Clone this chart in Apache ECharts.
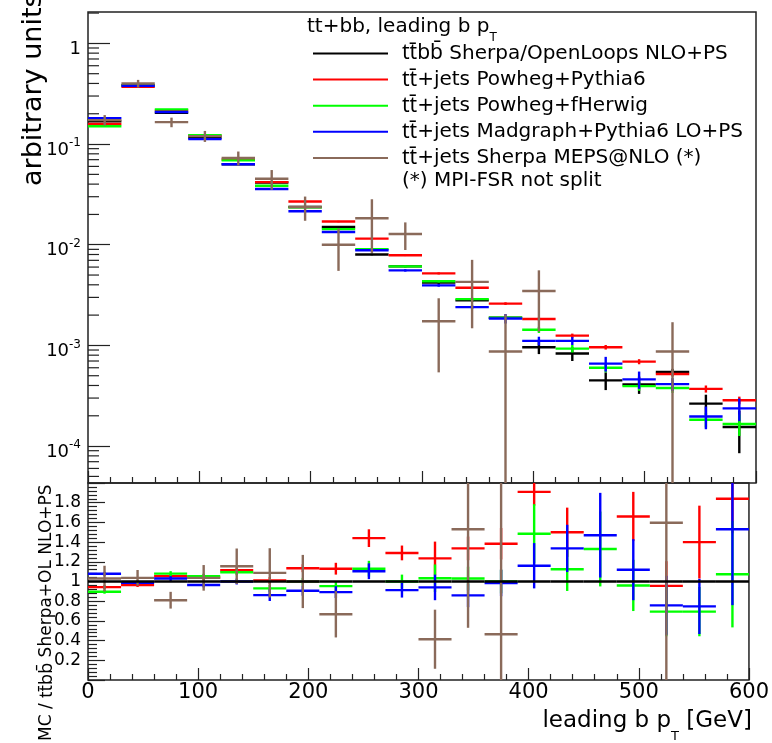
<!DOCTYPE html>
<html>
<head>
<meta charset="utf-8">
<script src="https://cdn.jsdelivr.net/npm/echarts@6/dist/echarts.min.js"></script>
<style>
  html, body { margin: 0; padding: 0; background: #ffffff; }
  #chart { width: 772px; height: 743px; }
</style>
</head>
<body>
<div id="chart"></div>
<script>
// Leading b-jet pT bins [GeV]
const ptEdges = [0, 30, 60, 90, 120, 150, 180, 210, 240, 270, 300, 330, 360, 390, 420, 450, 480, 510, 540, 570, 600];

// Normalised distributions (arbitrary units) with statistical errors
const sherpaOL    = [0.168, 0.385, 0.205, 0.116, 0.063, 0.0415, 0.0237, 0.0150, 0.0080, 0.0061, 0.0042, 0.0028, 0.00188, 0.00096, 0.00083, 0.00045, 0.00041, 0.000545, 0.000264, 0.000155];
const sherpaOLErr = [0.002, 0.004, 0.0025, 0.0015, 0.0009, 0.0006, 0.0004, 0.0003, 0.00015, 0.00013, 0.0001, 0.00009, 0.00008, 0.00014, 0.00013, 0.00009, 0.00008, 0.00004, 0.00006, 0.00007];

const powhegPythia    = [0.158, 0.3715, 0.216, 0.121, 0.0702, 0.0419, 0.0269, 0.0170, 0.0115, 0.00787, 0.00519, 0.00374, 0.0026, 0.00183, 0.00125, 0.00096, 0.00069, 0.000521, 0.00037, 0.000285];
const powhegPythiaErr = [0.0015, 0.003, 0.002, 0.0012, 0.0008, 0.0005, 0.0004, 0.0003, 0.0002, 0.00015, 0.00012, 0.0001, 0.00008, 0.00006, 0.00006, 0.00005, 0.00004, 0.00003, 0.00003, 0.000025];

const powhegHerwig    = [0.1505, 0.381, 0.221, 0.1225, 0.0689, 0.0386, 0.0236, 0.0143, 0.00904, 0.0061, 0.00434, 0.00288, 0.00188, 0.00143, 0.00093, 0.0006, 0.000394, 0.000378, 0.000183, 0.000166];
const powhegHerwigErr = [0.0015, 0.003, 0.002, 0.0012, 0.0007, 0.0005, 0.0004, 0.0003, 0.0002, 0.00015, 0.00012, 0.0001, 0.00008, 0.0001, 0.00008, 0.00006, 0.00004, 0.00004, 0.00003, 0.00004];

const madgraph    = [0.181, 0.38, 0.208, 0.112, 0.063, 0.0358, 0.0215, 0.01338, 0.00883, 0.00556, 0.00395, 0.0024, 0.00185, 0.00111, 0.00111, 0.00066, 0.00046, 0.000413, 0.000197, 0.000237];
const madgraphErr = [0.002, 0.004, 0.002, 0.0012, 0.0008, 0.0005, 0.0004, 0.0003, 0.0002, 0.00015, 0.00012, 0.0001, 0.0002, 0.00011, 0.0001, 0.00011, 0.00009, 0.00006, 0.00005, 0.00006];

const sherpaMEPS    = [0.173, 0.399, 0.165, 0.12, 0.0728, 0.0452, 0.0237, 0.0100, 0.0183, 0.01277, 0.00174, 0.00428, 0.00087, 0.00347, null, null, null, 0.00087, null, null];
const sherpaMEPSErr = [0.021, 0.035, 0.018, 0.015, 0.0115, 0.01, 0.0064, 0.0045, 0.01, 0.0039, 0.0012, 0.0028, 0.00117, 0.0021, null, null, null, 0.00083, null, null];

// Ratios to the ttbb Sherpa+OpenLoops prediction
const ratioSherpaOL = [1, 1, 1, 1, 1, 1, 1, 1, 1, 1, 1, 1, 1, 1, 1, 1, 1, 1, 1, 1];
const ratioPowhegPythia    = [0.943, 0.965, 1.054, 1.04, 1.114, 1.01, 1.135, 1.13, 1.44, 1.29, 1.235, 1.336, 1.384, 1.91, 1.50, 2.13, 1.66, 0.956, 1.40, 1.84];
const ratioPowhegPythiaErr = [0.02, 0.02, 0.025, 0.03, 0.03, 0.035, 0.04, 0.06, 0.09, 0.075, 0.17, 0.12, 0.16, 0.14, 0.25, 0.35, 0.25, 0.25, 0.37, 0.35];
const ratioPowhegHerwig    = [0.896, 0.99, 1.08, 1.054, 1.094, 0.93, 0.997, 0.953, 1.13, 1.0, 1.033, 1.03, 1.0, 1.485, 1.124, 1.33, 0.96, 0.694, 0.694, 1.074];
const ratioPowhegHerwigErr = [0.02, 0.02, 0.025, 0.025, 0.03, 0.035, 0.04, 0.05, 0.08, 0.07, 0.14, 0.12, 0.12, 0.3, 0.22, 0.38, 0.26, 0.25, 0.25, 0.54];
const ratioMadgraph    = [1.078, 0.987, 1.03, 0.965, 1.0, 0.862, 0.906, 0.892, 1.104, 0.912, 0.94, 0.859, 0.985, 1.16, 1.336, 1.47, 1.12, 0.758, 0.747, 1.53];
const ratioMadgraphErr = [0.02, 0.02, 0.025, 0.025, 0.03, 0.06, 0.05, 0.06, 0.08, 0.075, 0.13, 0.12, 0.135, 0.23, 0.24, 0.43, 0.31, 0.3, 0.28, 0.77];
const ratioSherpaMEPS    = [1.03, 1.037, 0.81, 1.037, 1.155, 1.088, 1.0, 0.667, 2.29, 2.09, 0.414, 1.53, 0.465, 3.6, null, null, null, 1.596, null, null];
const ratioSherpaMEPSErr = [0.13, 0.08, 0.085, 0.13, 0.18, 0.25, 0.27, 0.235, 0.6, 0.64, 0.30, 1.0, 1.6, 2.2, null, null, null, 1.7, null, null];

// Axis ranges
const mainRange  = [4.3e-5, 2.05];
const ratioRange = [0, 2];

const FONT = 'DejaVu Sans';
// Noto Sans places the combining overbar of t-bar / b-bar over its base letter
const BAR_FONT = 'Noto Sans';
const names = [
  't\u0074\u0304b\u0062\u0304 Sherpa/OpenLoops NLO+PS',
  't\u0074\u0304+jets Powheg+Pythia6',
  't\u0074\u0304+jets Powheg+fHerwig',
  't\u0074\u0304+jets Madgraph+Pythia6 LO+PS',
  't\u0074\u0304+jets Sherpa MEPS@NLO (*)'
];
const colors = ['#000000', '#ff0000', '#00ff00', '#0000ff', '#8a6a5a'];

// Split a process label into its quark part (set in BAR_FONT) and the rest
function quarkRich(name) {
  const m = name.match(/^([tb\u0304]+)(.*)$/);
  return m ? '{q|' + m[1] + '}{r|' + m[2] + '}' : '{r|' + name + '}';
}

function binned(values, errors) {
  return values.map((v, i) => [ptEdges[i], ptEdges[i + 1], v == null ? NaN : v, errors && errors[i] != null ? errors[i] : 0]);
}

// Horizontal bin-width segment plus vertical error bar, ROOT "E" style
function histItem(range) {
  return function (params, api) {
    const v = api.value(2);
    if (!(v > 0) || v < range[0] || v > range[1]) return null;
    const lo = api.value(0), hi = api.value(1), e = api.value(3) || 0;
    const mid = (lo + hi) / 2;
    const a = api.coord([lo, v]);
    const b = api.coord([hi, v]);
    const style = { stroke: api.visual('color'), lineWidth: 2.4, lineCap: 'butt' };
    const kids = [{ type: 'line', shape: { x1: a[0], y1: a[1], x2: b[0], y2: b[1] }, style: style }];
    if (e > 0) {
      const t = api.coord([mid, Math.min(v + e, range[1])]);
      const d = api.coord([mid, Math.max(v - e, range[0])]);
      kids.push({ type: 'line', shape: { x1: t[0], y1: t[1], x2: d[0], y2: d[1] }, style: style });
    }
    return { type: 'group', children: kids };
  };
}

function histSeries(name, color, values, errors, panel) {
  return {
    type: 'custom',
    name: name,
    xAxisIndex: panel,
    yAxisIndex: panel,
    coordinateSystem: 'cartesian2d',
    itemStyle: { color: color },
    clip: true,
    silent: true,
    encode: { x: [0, 1], y: 2 },
    renderItem: histItem(panel === 0 ? mainRange : ratioRange),
    data: binned(values, errors)
  };
}

// Minor ticks of the logarithmic axis at 2..9 x 10^n
const logMinor = [];
for (let p = -5; p <= 0; p++) {
  for (let k = 2; k <= 9; k++) {
    const v = k * Math.pow(10, p);
    if (v > mainRange[0] && v < mainRange[1]) logMinor.push([0, v]);
  }
}

const chart = echarts.init(document.getElementById('chart'), null, { renderer: 'canvas' });

const frame = { show: true, borderColor: '#222222', borderWidth: 1.5, backgroundColor: 'transparent' };
const tickStyle = { color: '#222222', width: 1.2 };

const option = {
  animation: false,
  backgroundColor: '#ffffff',
  grid: [
    Object.assign({ left: 88, top: 12, width: 668, height: 471 }, frame),
    Object.assign({ left: 88, top: 483, width: 668, height: 198 }, frame)
  ],
  xAxis: [
    {
      gridIndex: 0, type: 'value', min: 0, max: 600, interval: 100,
      axisLine: { show: false },
      axisTick: { show: true, inside: true, length: 12, lineStyle: tickStyle },
      minorTick: { show: true, splitNumber: 5, length: 6, lineStyle: tickStyle },
      axisLabel: { show: false },
      splitLine: { show: false }
    },
    {
      gridIndex: 1, type: 'value', min: 0, max: 600, interval: 100,
      axisLine: { show: false },
      axisTick: { show: true, inside: true, length: 12, lineStyle: tickStyle },
      minorTick: { show: true, splitNumber: 5, length: 6, lineStyle: tickStyle },
      axisLabel: { show: true, fontFamily: FONT, fontSize: 21, color: '#000', margin: 2 },
      splitLine: { show: false },
      name: '{m|leading b p}{s|T}{m| [GeV]}',
      nameLocation: 'end',
      nameGap: 3,
      nameTextStyle: {
        align: 'right', verticalAlign: 'top', padding: [30, 0, 0, 0],
        rich: {
          m: { fontFamily: FONT, fontSize: 23, color: '#000', lineHeight: 25, verticalAlign: 'top' },
          s: { fontFamily: FONT, fontSize: 13, color: '#000', lineHeight: 13, verticalAlign: 'top', padding: [20, 0, 0, 0] }
        }
      }
    }
  ],
  yAxis: [
    {
      gridIndex: 0, type: 'log', logBase: 10, min: mainRange[0], max: mainRange[1],
      axisLine: { show: false },
      axisTick: { show: true, inside: true, length: 22, lineStyle: tickStyle },
      splitLine: { show: false },
      axisLabel: {
        show: true, margin: 7, showMinLabel: false, showMaxLabel: false,
        formatter: function (v) {
          const n = Math.round(Math.log10(v));
          return n === 0 ? '{m|1}' : '{m|10}{e|' + n + '}';
        },
        rich: {
          m: { fontFamily: FONT, fontSize: 18, color: '#000', lineHeight: 30, verticalAlign: 'bottom' },
          e: { fontFamily: FONT, fontSize: 12, color: '#000', lineHeight: 12, verticalAlign: 'top', padding: [8, 0, 0, 0] }
        }
      }
    },
    {
      gridIndex: 1, type: 'value', min: ratioRange[0], max: ratioRange[1], interval: 0.2,
      axisLine: { show: false },
      axisTick: { show: true, inside: true, length: 17, lineStyle: tickStyle },
      minorTick: { show: true, splitNumber: 5, length: 9, lineStyle: tickStyle },
      splitLine: { show: false },
      axisLabel: {
        show: true, margin: 7, showMinLabel: false, showMaxLabel: false,
        fontFamily: FONT, fontSize: 17, color: '#000',
        formatter: function (v) { return Math.abs(v - 1) < 1e-9 ? '1' : v.toFixed(1); }
      }
    }
  ],
  legend: {
    orient: 'vertical', left: 313, top: 43, padding: 0,
    itemWidth: 75, itemHeight: 2, itemGap: 5.1,
    selectedMode: false,
    icon: 'rect',
    data: names.map(n => ({ name: n, icon: 'rect' })),
    formatter: quarkRich,
    textStyle: {
      fontFamily: FONT, fontSize: 20, color: '#000', lineHeight: 20, padding: [0, 0, 0, 9],
      rich: {
        q: { fontFamily: BAR_FONT, fontSize: 21, color: '#000', lineHeight: 20 },
        r: { fontFamily: FONT, fontSize: 20, color: '#000', lineHeight: 20 }
      }
    }
  },
  graphic: [
    {
      type: 'text', left: 307, top: 17, silent: true,
      style: {
        text: '{m|tt+bb, leading b p}{s|T}',
        rich: {
          m: { fontFamily: FONT, fontSize: 20, fill: '#000', lineHeight: 22, verticalAlign: 'top' },
          s: { fontFamily: FONT, fontSize: 12, fill: '#000', lineHeight: 12, verticalAlign: 'top', padding: [15, 0, 0, 0] }
        }
      }
    },
    {
      type: 'text', x: 402, y: 181, silent: true,
      style: { text: '(*) MPI-FSR not split', fontFamily: FONT, fontSize: 20, fill: '#000',
               align: 'left', verticalAlign: 'middle', textAlign: 'left', textVerticalAlign: 'middle' }
    },
    {
      type: 'text', x: 47, y: 186, rotation: Math.PI / 2, silent: true,
      style: { text: 'arbitrary units', fontFamily: FONT, fontSize: 27, fill: '#000',
               align: 'left', verticalAlign: 'bottom', textAlign: 'left', textVerticalAlign: 'bottom' }
    },
    {
      type: 'text', x: 57, y: 741, rotation: Math.PI / 2, silent: true,
      style: {
        text: '{r|MC / }' + quarkRich('t\u0074\u0304b\u0062\u0304 Sherpa+OL NLO+PS'),
        align: 'left', verticalAlign: 'bottom', textAlign: 'left', textVerticalAlign: 'bottom',
        rich: {
          q: { fontFamily: BAR_FONT, fontSize: 18, fill: '#000', lineHeight: 20 },
          r: { fontFamily: FONT, fontSize: 17, fill: '#000', lineHeight: 20 }
        }
      }
    }
  ],
  series: [
    histSeries(names[0], colors[0], sherpaOL, sherpaOLErr, 0),
    histSeries(names[1], colors[1], powhegPythia, powhegPythiaErr, 0),
    histSeries(names[2], colors[2], powhegHerwig, powhegHerwigErr, 0),
    histSeries(names[3], colors[3], madgraph, madgraphErr, 0),
    histSeries(names[4], colors[4], sherpaMEPS, sherpaMEPSErr, 0),
    histSeries('ratio ' + names[1], colors[1], ratioPowhegPythia, ratioPowhegPythiaErr, 1),
    histSeries('ratio ' + names[2], colors[2], ratioPowhegHerwig, ratioPowhegHerwigErr, 1),
    histSeries('ratio ' + names[3], colors[3], ratioMadgraph, ratioMadgraphErr, 1),
    histSeries('ratio ' + names[4], colors[4], ratioSherpaMEPS, ratioSherpaMEPSErr, 1),
    histSeries('ratio ' + names[0], colors[0], ratioSherpaOL, null, 1),
    {
      type: 'custom', name: 'log minor ticks', xAxisIndex: 0, yAxisIndex: 0,
      coordinateSystem: 'cartesian2d', silent: true, clip: false,
      encode: { x: 0, y: 1 },
      data: logMinor,
      renderItem: function (params, api) {
        const p = api.coord([api.value(0), api.value(1)]);
        return { type: 'line', shape: { x1: p[0], y1: p[1], x2: p[0] + 11, y2: p[1] },
                 style: { stroke: '#222222', lineWidth: 1.2 } };
      }
    }
  ]
};

chart.setOption(option);
</script>
</body>
</html>
